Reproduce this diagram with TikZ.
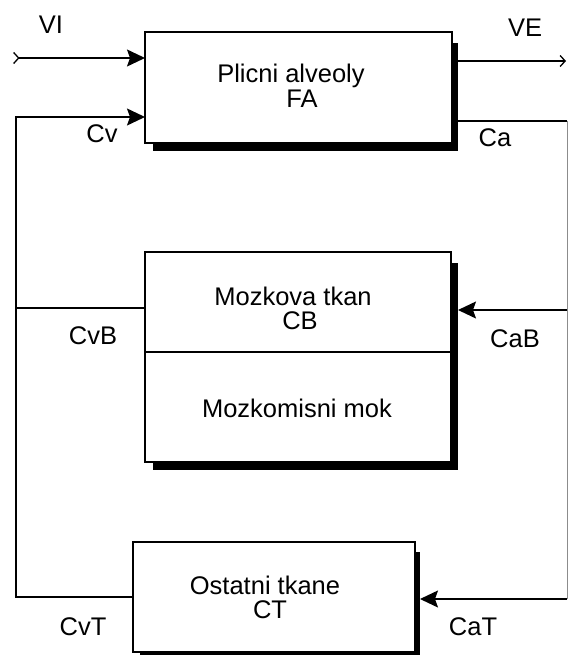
\documentclass[tikz,border=0pt]{standalone}
\usepackage{fontspec}
\setmainfont{Liberation Sans}
\usetikzlibrary{arrows.meta}
\begin{document}
\begin{tikzpicture}[x=1pt,y=-1pt,
  every node/.style={font=\fontsize{25.5}{27}\selectfont},
  box/.style={draw, line width=1.3pt, rectangle, inner sep=0pt, outer sep=0pt},
  lbl/.style={anchor=base, inner sep=0pt},
  conn/.style={line width=1.3pt},
  tip/.style={-{Stealth[length=18pt,width=17pt,inset=3pt]}},
  shadow/.style={fill=black}]
\useasboundingbox (0,0) rectangle (568,655);
\fill[white] (0,0) rectangle (568,655);
% boxes
\node[box, minimum width=307pt, minimum height=111pt] (fa) at (298.5,87.5) {};
\node[box, minimum width=306pt, minimum height=100pt] (cb) at (298,302) {};
\node[box, minimum width=306pt, minimum height=110pt] (csf) at (298,407) {};
\node[box, minimum width=282pt, minimum height=110pt] (ct) at (274,597) {};
% shadows
\fill[shadow] (452,43) rectangle (458,151);
\fill[shadow] (153,143) rectangle (458,151);
\fill[shadow] (451,263) rectangle (458,470);
\fill[shadow] (153,462) rectangle (458,470);
\fill[shadow] (415,552) rectangle (420,655);
\fill[shadow] (140,652) rectangle (420,655);
% box texts
\node[lbl] (t1) at (291,83) {Plicni alveoly};
\node[lbl] (t1b) at (302,108) {FA};
\node[lbl] (t2) at (293,305) {Mozkova tkan};
\node[lbl] (t2b) at (300,329) {CB};
\node[lbl] (t3) at (297,417) {Mozkomisni mok};
\node[lbl] (t4) at (265,594) {Ostatni tkane};
\node[lbl] (t4b) at (270,618.5) {CT};
% connector labels
\node[lbl] (vi) at (51,34) {VI};
\node[lbl] (ve) at (525,37) {VE};
\node[lbl] (cv) at (102,143) {Cv};
\node[lbl] (ca) at (495,147) {Ca};
\node[lbl] (cvb) at (93,344) {CvB};
\node[lbl] (cab) at (515,347) {CaB};
\node[lbl] (cvt) at (83,635) {CvT};
\node[lbl] (cat) at (473,635) {CaT};
% coordinates
\coordinate (vistart) at (13,58);
\coordinate (veend) at (566,61);
\coordinate (faout) at (458,61);
\coordinate (faca) at (458,121);
\coordinate (rtop) at (567,121);
\coordinate (rmid) at (567,310);
\coordinate (rbot) at (567,599);
\coordinate (cbin) at (458,310);
\coordinate (ctin) at (420,599);
\coordinate (ltop) at (16,117);
\coordinate (lmid) at (16,308);
\coordinate (lbot) at (16,597);
% connectors
\draw[conn, {Straight Barb[reversed,length=5pt,width=11pt]}-{Stealth[length=18pt,width=17pt,inset=3pt]}] (vistart) -- (vistart -| fa.west);
\draw[conn, -{Straight Barb[length=5pt,width=11pt]}] (faout) -- (veend);
\draw[conn] (faca) -- (rtop);
\draw[conn, black!45, line width=0.8pt] (rtop) -- (rbot);
\draw[conn, tip] (rmid) -- (cbin);
\draw[conn, tip] (rbot) -- (ctin);
\draw[conn, tip] (lbot -| ct.west) -- (lbot) -- (ltop) -- (ltop -| fa.west);
\draw[conn] (lmid -| cb.west) -- (lmid);
\end{tikzpicture}
\end{document}
